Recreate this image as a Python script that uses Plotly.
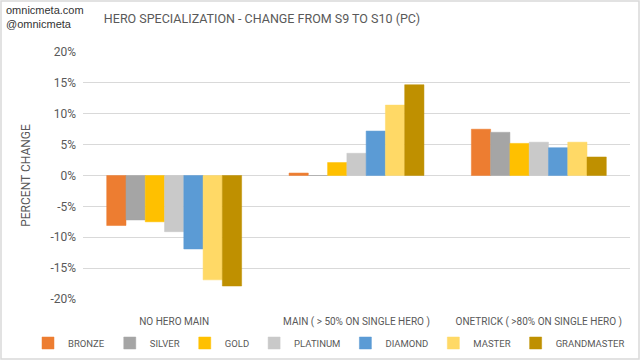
import plotly.graph_objects as go

categories = ["NO HERO MAIN", "MAIN ( > 50% ON SINGLE HERO )", "ONETRICK ( >80% ON SINGLE HERO )"]
tiers = ["BRONZE", "SILVER", "GOLD", "PLATINUM", "DIAMOND", "MASTER", "GRANDMASTER"]
bronze = [-8.1, 0.4, 7.5]
silver = [-7.2, 0.0, 7.0]
gold = [-7.5, 2.1, 5.2]
platinum = [-9.1, 3.6, 5.4]
diamond = [-11.9, 7.2, 4.5]
master = [-16.9, 11.4, 5.4]
grandmaster = [-17.9, 14.7, 3.0]
series = [bronze, silver, gold, platinum, diamond, master, grandmaster]
colors = ["#ED7D31", "#A5A5A5", "#FFC000", "#C9C9C9", "#5B9BD5", "#FFD966", "#BF9000"]
y_ticks = [-20, -15, -10, -5, 0, 5, 10, 15, 20]
y_ticktext = ["-20%", "-15%", "-10%", "-5%", "0%", "5%", "10%", "15%", "20%"]

FONT = "Roboto, Liberation Sans, sans-serif"
TXT = "#595959"

fig = go.Figure()
for name, vals, c in zip(tiers, series, colors):
    fig.add_trace(go.Bar(x=categories, y=vals, name=name,
                         marker=dict(color=c, line=dict(color=c, width=0.5))))

fig.update_layout(
    width=640, height=360,
    margin=dict(l=83, r=10, t=52, b=61, autoexpand=False),
    paper_bgcolor="white", plot_bgcolor="white",
    barmode="group", bargap=0.26, bargroupgap=0,
    font=dict(family=FONT, color=TXT, size=11),
    title=dict(text="HERO SPECIALIZATION - CHANGE FROM S9 TO S10 (PC)", x=262/640, xanchor="center",
               y=1 - 19/360, yanchor="middle", font=dict(family=FONT, size=12.5, color=TXT)),
    showlegend=True,
    legend=dict(orientation="h", x=(28 - 83) / 547, xanchor="left", y=-44/247, yanchor="middle",
                font=dict(family=FONT, size=9.5, color=TXT), traceorder="normal", itemwidth=30,
                tracegroupgap=0),
    xaxis=dict(showgrid=False, showline=False, ticks="", tickangle=0, automargin=False,
               ticklabelstandoff=15, tickfont=dict(family=FONT, size=10, color=TXT)),
    yaxis=dict(range=[-20, 20], tickmode="array", tickvals=y_ticks, ticktext=y_ticktext,
               showgrid=True, gridcolor="#D9D9D9", automargin=True,
               zeroline=True, zerolinecolor="#D9D9D9", zerolinewidth=1, ticks="", ticklen=0,
               ticklabelstandoff=6,
               tickfont=dict(family=FONT, size=12, color=TXT),
               title=dict(text="PERCENT CHANGE", font=dict(family=FONT, size=12, color=TXT), standoff=17)),
)
fig.add_annotation(text="omnicmeta.com<br>@omnicmeta", xref="paper", yref="paper", x=(4 - 83) / 547, y=(299 - 2) / 247,
                   xanchor="left", yanchor="top", showarrow=False, align="left",
                   font=dict(family="Arial, Liberation Sans, sans-serif", size=11, color="#333333"))
fig.add_shape(type="rect", xref="paper", yref="paper", x0=(1 - 83) / 547, x1=(639 - 83) / 547,
              y0=(299 - 359) / 247, y1=(299 - 1) / 247,
              line=dict(color="#D9D9D9", width=1.5), fillcolor="rgba(0,0,0,0)", layer="below")
fig.write_html("out.html", config={"displayModeBar": False},
               post_script="document.body.style.margin='0';document.body.style.overflow='hidden';")
